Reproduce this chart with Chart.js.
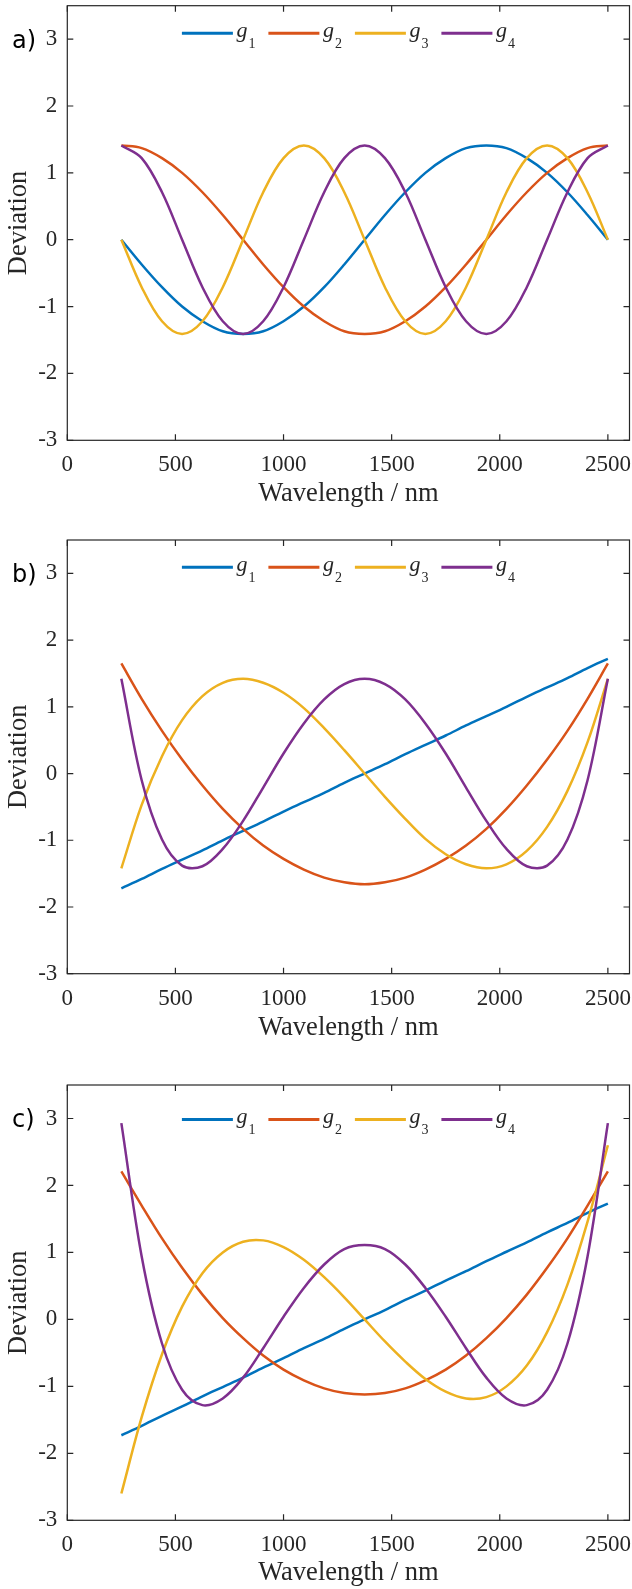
<!DOCTYPE html>
<html>
<head>
<meta charset="utf-8">
<script src="https://cdn.jsdelivr.net/npm/chart.js@4.4.1/dist/chart.umd.min.js"></script>
<style>
  body { margin: 0; background: #fff; width: 632px; height: 1589px; overflow: hidden; position: relative; }
  canvas { position: absolute; left: 0; }
</style>
</head>
<body>
<canvas id="chartA" width="632" height="510" style="top:0px"></canvas>
<canvas id="chartB" width="632" height="510" style="top:534px"></canvas>
<canvas id="chartC" width="632" height="510" style="top:1079px"></canvas>
<script>
// wavelengths the curves were read at (nm)
var wavelengths = [250, 344, 438, 531, 625, 719, 813, 906, 1000, 1094, 1188, 1281, 1375,
  1469, 1563, 1656, 1750, 1844, 1938, 2031, 2125, 2219, 2313, 2406, 2500];

// panel a
var aG1 = [0, -0.37, -0.71, -1.00, -1.22, -1.37, -1.41, -1.37, -1.22, -1.00, -0.71, -0.37, 0,
  0.37, 0.71, 1.00, 1.22, 1.37, 1.41, 1.37, 1.22, 1.00, 0.71, 0.37, 0];
var aG2 = [1.41, 1.37, 1.22, 1.00, 0.71, 0.37, 0, -0.37, -0.71, -1.00, -1.22, -1.37, -1.41,
  -1.37, -1.22, -1.00, -0.71, -0.37, 0, 0.37, 0.71, 1.00, 1.22, 1.37, 1.41];
var aG3 = [0, -0.71, -1.22, -1.41, -1.22, -0.71, 0, 0.71, 1.22, 1.41, 1.22, 0.71, 0,
  -0.71, -1.22, -1.41, -1.22, -0.71, 0, 0.71, 1.22, 1.41, 1.22, 0.71, 0];
var aG4 = [1.41, 1.22, 0.71, 0, -0.71, -1.22, -1.41, -1.22, -0.71, 0, 0.71, 1.22, 1.41,
  1.22, 0.71, 0, -0.71, -1.22, -1.41, -1.22, -0.71, 0, 0.71, 1.22, 1.41];

// panel b
var bG1 = [-1.72, -1.58, -1.43, -1.29, -1.15, -1.00, -0.86, -0.72, -0.57, -0.43, -0.29, -0.14, 0,
  0.14, 0.29, 0.43, 0.57, 0.72, 0.86, 1.00, 1.15, 1.29, 1.43, 1.58, 1.72];
var bG2 = [1.65, 1.12, 0.64, 0.21, -0.18, -0.53, -0.83, -1.08, -1.28, -1.44, -1.56, -1.63, -1.66,
  -1.63, -1.56, -1.44, -1.28, -1.08, -0.83, -0.53, -0.18, 0.21, 0.64, 1.12, 1.65];
var bG3 = [-1.42, -0.47, 0.26, 0.80, 1.16, 1.36, 1.42, 1.36, 1.21, 0.98, 0.68, 0.35, 0,
  -0.35, -0.68, -0.98, -1.21, -1.36, -1.42, -1.36, -1.16, -0.80, -0.26, 0.47, 1.42];
var bG4 = [1.42, -0.10, -0.99, -1.38, -1.39, -1.13, -0.71, -0.21, 0.30, 0.75, 1.11, 1.34, 1.42,
  1.34, 1.11, 0.75, 0.30, -0.21, -0.71, -1.13, -1.39, -1.38, -0.99, -0.10, 1.42];

// panel c
var cG1 = [-1.73, -1.59, -1.44, -1.30, -1.15, -1.01, -0.87, -0.72, -0.58, -0.43, -0.29, -0.14, 0,
  0.14, 0.29, 0.43, 0.58, 0.72, 0.87, 1.01, 1.15, 1.30, 1.44, 1.59, 1.73];
var cG2 = [2.21, 1.70, 1.21, 0.77, 0.37, 0.02, -0.28, -0.54, -0.75, -0.91, -1.03, -1.10, -1.12,
  -1.10, -1.03, -0.91, -0.75, -0.54, -0.28, 0.02, 0.37, 0.77, 1.21, 1.70, 2.21];
var cG3 = [-2.60, -1.46, -0.52, 0.19, 0.69, 1.00, 1.16, 1.18, 1.08, 0.89, 0.63, 0.33, 0,
  -0.33, -0.63, -0.89, -1.08, -1.18, -1.16, -1.00, -0.69, -0.19, 0.52, 1.46, 2.60];
var cG4 = [2.93, 0.94, -0.36, -1.05, -1.28, -1.18, -0.87, -0.43, 0.04, 0.47, 0.82, 1.05, 1.11,
  1.05, 0.82, 0.47, 0.04, -0.43, -0.87, -1.18, -1.28, -1.05, -0.36, 0.94, 2.93];

var seriesNames = ["g1", "g2", "g3", "g4"];
var xTicks = [0, 500, 1000, 1500, 2000, 2500];
var yTicks = [-3, -2, -1, 0, 1, 2, 3];

var colors = ["#0072BD", "#D95319", "#EDB120", "#7E2F8E"];
var axisColor = "#262626";
var serif = "'Liberation Serif', 'Times New Roman', serif";

// box, inward ticks, panel letter and the g_n legend
var framePlugin = {
  id: "frame",
  afterDraw: function (chart, args, opts) {
    var ctx = chart.ctx;
    var area = chart.chartArea;
    var xs = chart.scales.x;
    var ys = chart.scales.y;
    ctx.save();
    ctx.strokeStyle = axisColor;
    ctx.lineWidth = 1.2;
    ctx.strokeRect(area.left, area.top, area.right - area.left, area.bottom - area.top);
    ctx.beginPath();
    xs.ticks.forEach(function (t) {
      var px = xs.getPixelForValue(t.value);
      ctx.moveTo(px, area.bottom);
      ctx.lineTo(px, area.bottom - 6);
      ctx.moveTo(px, area.top);
      ctx.lineTo(px, area.top + 6);
    });
    ys.ticks.forEach(function (t) {
      var py = ys.getPixelForValue(t.value);
      ctx.moveTo(area.left, py);
      ctx.lineTo(area.left + 6, py);
      ctx.moveTo(area.right, py);
      ctx.lineTo(area.right - 6, py);
    });
    ctx.stroke();

    ctx.fillStyle = "#000";
    ctx.font = "24px 'DejaVu Sans'";
    ctx.textBaseline = "alphabetic";
    ctx.textAlign = "left";
    ctx.fillText(opts.letter, 12, area.top + 42);

    // legend
    var sets = chart.data.datasets;
    var lineLen = 51, gapLine = 3.5, gapItem = 13;
    var widths = sets.map(function (ds) {
      ctx.font = "italic 22px " + serif;
      var wg = ctx.measureText(ds.label.charAt(0)).width;
      ctx.font = "14px " + serif;
      var ws = ctx.measureText(ds.label.slice(1)).width;
      return { g: wg, s: ws, total: lineLen + gapLine + wg + 1 + ws };
    });
    var total = widths.reduce(function (a, w) { return a + w.total; }, 0) + gapItem * (sets.length - 1);
    var x = (area.left + area.right) / 2 - total / 2;
    var y = area.top + opts.legendOffset;
    sets.forEach(function (ds, i) {
      ctx.strokeStyle = ds.borderColor;
      ctx.lineWidth = 3;
      ctx.beginPath();
      ctx.moveTo(x, y);
      ctx.lineTo(x + lineLen, y);
      ctx.stroke();
      var tx = x + lineLen + gapLine;
      ctx.fillStyle = axisColor;
      ctx.font = "italic 22px " + serif;
      ctx.fillText(ds.label.charAt(0), tx, y + 3.2);
      ctx.font = "14px " + serif;
      ctx.fillText(ds.label.slice(1), tx + widths[i].g + 1, y + 14.4);
      x += widths[i].total + gapItem;
    });
    ctx.restore();
  }
};

function plainTick(v) {
  return String(v);
}

function makePanel(id, series, letter, padTop, areaHeight, legendOffset) {
  var canvasHeight = 510;
  var datasets = series.map(function (vals, i) {
    return {
      label: seriesNames[i],
      data: wavelengths.map(function (w, k) { return { x: w, y: vals[k] }; }),
      borderColor: colors[i],
      borderWidth: 2.5,
      pointRadius: 0,
      fill: false,
      tension: 0.35,
      order: series.length - i
    };
  });
  return new Chart(document.getElementById(id), {
    type: "line",
    data: { datasets: datasets },
    plugins: [framePlugin],
    options: {
      responsive: false,
      animation: false,
      devicePixelRatio: 1,
      layout: { padding: { top: padTop, right: 2.5, bottom: 0, left: 0 } },
      plugins: {
        legend: { display: false },
        tooltip: { enabled: false },
        frame: { letter: letter, legendOffset: legendOffset }
      },
      scales: {
        x: {
          type: "linear",
          min: 0,
          max: 2600,
          grid: { display: false, drawTicks: false },
          border: { display: false },
          ticks: { font: { family: serif, size: 23 }, color: axisColor, padding: 11, maxRotation: 0, callback: plainTick },
          afterBuildTicks: function (scale) {
            scale.ticks = xTicks.map(function (v) { return { value: v }; });
          },
          afterFit: function (scale) {
            scale.height = canvasHeight - padTop - areaHeight;
            scale.paddingLeft = 0;
            scale.paddingRight = 0;
          },
          title: {
            display: true,
            text: "Wavelength / nm",
            font: { family: serif, size: 26.5 },
            color: axisColor,
            padding: { top: 0, bottom: 0 }
          }
        },
        y: {
          min: -3,
          max: 3.5,
          grid: { display: false, drawTicks: false },
          border: { display: false },
          ticks: { font: { family: serif, size: 23 }, color: axisColor, padding: 10, callback: plainTick },
          afterBuildTicks: function (scale) {
            scale.ticks = yTicks.map(function (v) { return { value: v }; });
          },
          afterFit: function (scale) {
            scale.width = 67.3;
            scale.paddingTop = 0;
            scale.paddingBottom = 0;
          },
          title: {
            display: true,
            text: "Deviation",
            font: { family: serif, size: 26.5 },
            color: axisColor,
            padding: { top: 3, bottom: 0 }
          }
        }
      }
    }
  });
}

makePanel("chartA", [aG1, aG2, aG3, aG4], "a)", 5.7, 434.6, 27.6);
makePanel("chartB", [bG1, bG2, bG3, bG4], "b)", 6, 433.7, 27.3);
makePanel("chartC", [cG1, cG2, cG3, cG4], "c)", 6, 435.3, 34.6);
</script>
</body>
</html>
